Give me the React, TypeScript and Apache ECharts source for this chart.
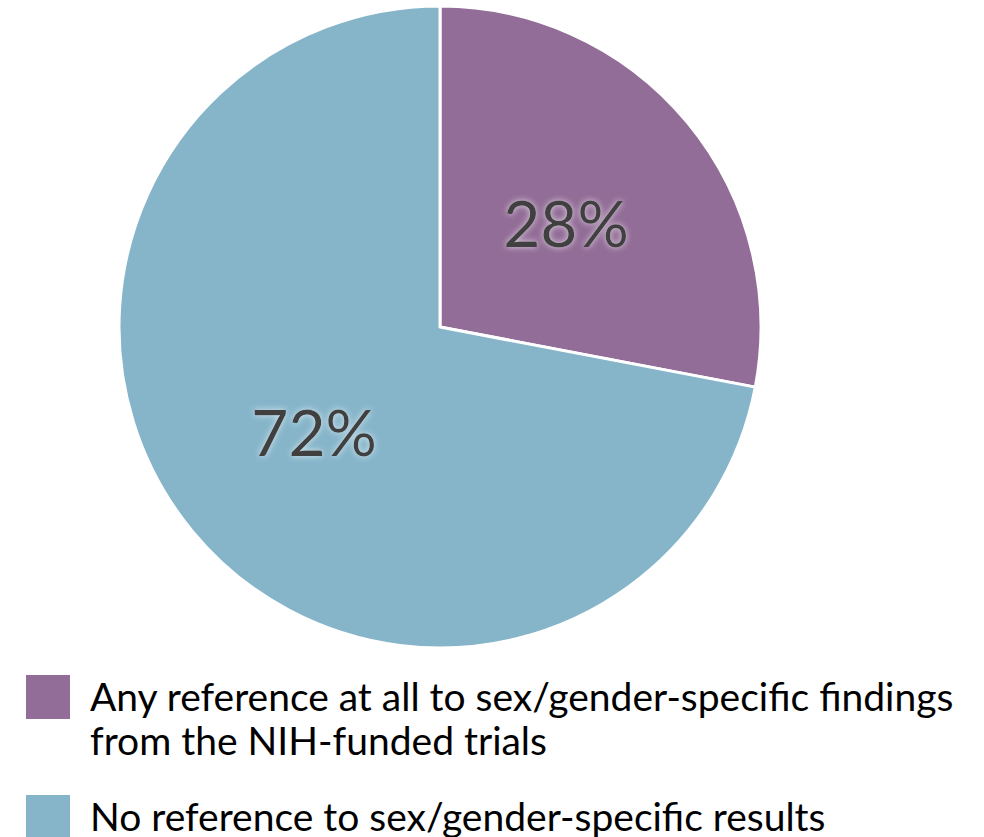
import React, { useEffect, useRef } from "react";
import * as echarts from "echarts";

const categories = [
  "Any reference at all to sex/gender-specific findings from the NIH-funded trials",
  "No reference to sex/gender-specific results",
];
const legendLines = [
  "Any reference at all to sex/gender-specific findings\nfrom the NIH-funded trials",
  "No reference to sex/gender-specific results",
];
const values = [28, 72];
const colors = ["#926D97", "#86B5CA"];

export default function App() {
  const ref = useRef<HTMLDivElement>(null);
  useEffect(() => {
    document.body.style.margin = "0";
    const chart = echarts.init(ref.current!, null, { renderer: "svg" });
    const legendTops = [675, 795];
    const textTops = [674, 796];
    const lineHeights = [44, 39];
    const graphic: any[] = [];
    categories.forEach((c, i) => {
      graphic.push({
        type: "rect",
        shape: { x: 26, y: legendTops[i], width: 44, height: 44 },
        style: { fill: colors[i] },
      });
      graphic.push({
        type: "text",
        x: 90,
        y: textTops[i],
        style: {
          text: legendLines[i],
          fontFamily: "Lato",
          fontSize: 39,
          lineHeight: lineHeights[i],
          fill: "#000000",
          verticalAlign: "top",
          align: "left",
        },
      });
    });
    chart.setOption({
      animation: false,
      graphic,
      series: [
        {
          type: "pie",
          center: [440, 327],
          radius: 321,
          startAngle: 90,
          clockwise: true,
          data: categories.map((c, i) => ({
            name: c,
            value: values[i],
            itemStyle: { color: colors[i] },
          })),
          itemStyle: { borderColor: "#ffffff", borderWidth: 3 },
          label: {
            show: true,
            position: "inside",
            formatter: (p: any) => `${p.value}%`,
            fontFamily: "Lato",
            fontSize: 64,
            color: "#404040",
            textShadowColor: "rgba(255,255,255,0.7)",
            textShadowBlur: 6,
          },
          labelLine: { show: false },
          emphasis: { disabled: true },
        },
      ],
    });
    return () => chart.dispose();
  }, []);
  return <div ref={ref} style={{ width: 984, height: 837 }} />;
}
